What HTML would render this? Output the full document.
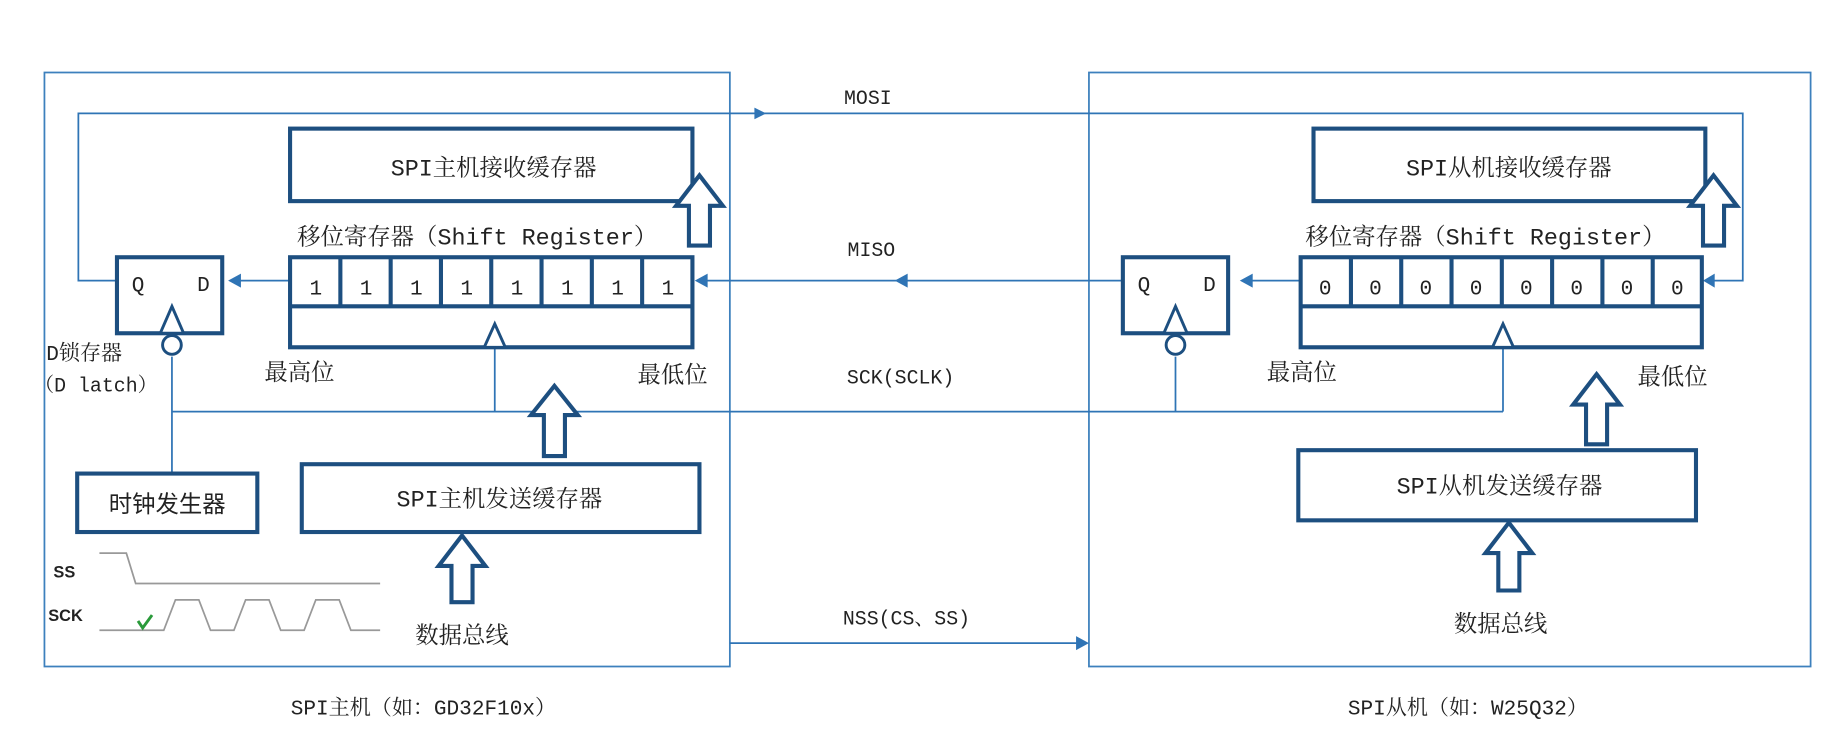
<!DOCTYPE html>
<html><head><meta charset="utf-8"><style>
html,body{margin:0;padding:0;background:#fff;}
svg{display:block;}
text{font-family:"Liberation Mono","Noto Serif CJK SC",monospace;fill:#222;}
.b{fill:none;stroke:#1d4f80;stroke-width:3.5;}
.t{fill:none;stroke:#2f74b5;stroke-width:1.5;}
.o{fill:none;stroke:#3d80bd;stroke-width:1.5;}
.h{fill:#fff;stroke:#1d4f80;stroke-width:3.5;stroke-linejoin:miter;}
.ah{fill:#2f74b5;}
</style></head><body>
<svg width="1834" height="739" viewBox="0 0 1568 632" preserveAspectRatio="none" xmlns="http://www.w3.org/2000/svg">
<rect x="38" y="62" width="586" height="508" class="o"/>
<rect x="931" y="62" width="617" height="508" class="o"/>

<polyline points="100,240 67,240 67,97 1490,97 1490,240 1462,240" class="t"/>
<polygon points="1456,240 1466,234 1466,246" class="ah"/>
<polygon points="655,97 645,92 645,102" class="ah"/>
<text x="742" y="89" font-size="17" text-anchor="middle">MOSI</text>

<line x1="960" y1="240" x2="600" y2="240" class="t"/>
<polygon points="594,240 605,234 605,246" class="ah"/>
<polygon points="765,240 776,234 776,246" class="ah"/>
<text x="745" y="219" font-size="17" text-anchor="middle">MISO</text>

<line x1="248" y1="240" x2="202" y2="240" class="t"/>
<polygon points="195,240 206,234 206,246" class="ah"/>
<line x1="1112" y1="240" x2="1067" y2="240" class="t"/>
<polygon points="1060,240 1071,234 1071,246" class="ah"/>

<polyline points="147,405 147,305" class="t"/>
<line x1="147" y1="352" x2="1285" y2="352" class="t"/>
<line x1="423" y1="297" x2="423" y2="352" class="t"/>
<line x1="1005" y1="305" x2="1005" y2="352" class="t"/>
<line x1="1285" y1="297" x2="1285" y2="352" class="t"/>
<text x="770" y="328" font-size="17" text-anchor="middle">SCK(SCLK)</text>

<line x1="624" y1="550" x2="922" y2="550" class="t"/>
<polygon points="931,550 920,544 920,556" class="ah"/>
<text x="775" y="534" font-size="17" text-anchor="middle">NSS(CS、SS)</text>

<rect x="248" y="110" width="344" height="62" class="b"/>
<text x="422" y="150" font-size="20" text-anchor="middle">SPI主机接收缓存器</text>
<path d="M598,150 L618,176 L607,176 L607,210 L589,210 L589,176 L578,176 Z" class="h"/>
<text x="408" y="209" font-size="20" text-anchor="middle">移位寄存器（Shift Register）</text>
<rect x="248" y="220" width="344" height="77" class="b"/>
<line x1="248" y1="262" x2="592" y2="262" class="b"/>
<g class="b">
<line x1="291" y1="220" x2="291" y2="262"/><line x1="334" y1="220" x2="334" y2="262"/>
<line x1="377" y1="220" x2="377" y2="262"/><line x1="420" y1="220" x2="420" y2="262"/>
<line x1="463" y1="220" x2="463" y2="262"/><line x1="506" y1="220" x2="506" y2="262"/>
<line x1="549" y1="220" x2="549" y2="262"/></g>
<g font-size="18" text-anchor="middle">
<text x="270" y="252">1</text><text x="313" y="252">1</text><text x="356" y="252">1</text><text x="399" y="252">1</text>
<text x="442" y="252">1</text><text x="485" y="252">1</text><text x="528" y="252">1</text><text x="571" y="252">1</text></g>
<path d="M423,277 L432,297 L414,297 Z" class="h" style="stroke-width:2.5"/>
<rect x="100" y="220" width="90" height="65" class="b"/>
<text x="118" y="249" font-size="18" text-anchor="middle">Q</text>
<text x="174" y="249" font-size="18" text-anchor="middle">D</text>
<path d="M147,262 L157,285 L137,285 Z" class="h" style="stroke-width:2.5"/>
<circle cx="147" cy="295" r="8" class="h" style="stroke-width:2.5"/>
<text x="72" y="308" font-size="18" text-anchor="middle">D锁存器</text>
<text x="82" y="335" font-size="17" text-anchor="middle">（D latch）</text>
<text x="256" y="325" font-size="20" text-anchor="middle">最高位</text>
<text x="575" y="327" font-size="20" text-anchor="middle">最低位</text>
<path d="M474,330 L494,355 L483,355 L483,390 L465,390 L465,355 L454,355 Z" class="h"/>
<rect x="258" y="397" width="340" height="58" class="b"/>
<text x="427" y="433" font-size="20" text-anchor="middle">SPI主机发送缓存器</text>
<path d="M395,458 L415,484 L404,484 L404,515 L386,515 L386,484 L375,484 Z" class="h"/>
<text x="395" y="550" font-size="20" text-anchor="middle">数据总线</text>
<rect x="66" y="405" width="154" height="50" class="b"/>
<text x="143" y="438" font-size="20" text-anchor="middle" style="font-family:'Noto Sans CJK SC',sans-serif">时钟发生器</text>
<text x="55" y="494" font-size="14" font-weight="bold" style="font-family:'Liberation Sans',sans-serif" text-anchor="middle">SS</text>
<text x="56" y="531" font-size="14" font-weight="bold" style="font-family:'Liberation Sans',sans-serif" text-anchor="middle">SCK</text>
<polyline points="85,473 108,473 116,499 325,499" fill="none" stroke="#999" stroke-width="1.5"/>
<polyline points="85,539 140,539 150,513 170,513 180,539 200,539 210,513 230,513 240,539 260,539 270,513 290,513 300,539 325,539" fill="none" stroke="#999" stroke-width="1.5"/>
<path d="M118,531 L122,537 L130,526" fill="none" stroke="#2a9a3a" stroke-width="2.5"/>

<rect x="1123" y="110" width="335" height="62" class="b"/>
<text x="1290" y="150" font-size="20" text-anchor="middle">SPI从机接收缓存器</text>
<path d="M1465,150 L1485,176 L1474,176 L1474,210 L1456,210 L1456,176 L1445,176 Z" class="h"/>
<text x="1270" y="209" font-size="20" text-anchor="middle">移位寄存器（Shift Register）</text>
<rect x="1112" y="220" width="343" height="77" class="b"/>
<line x1="1112" y1="262" x2="1455" y2="262" class="b"/>
<g class="b">
<line x1="1155" y1="220" x2="1155" y2="262"/><line x1="1198" y1="220" x2="1198" y2="262"/>
<line x1="1241" y1="220" x2="1241" y2="262"/><line x1="1284" y1="220" x2="1284" y2="262"/>
<line x1="1327" y1="220" x2="1327" y2="262"/><line x1="1370" y1="220" x2="1370" y2="262"/>
<line x1="1413" y1="220" x2="1413" y2="262"/></g>
<g font-size="18" text-anchor="middle">
<text x="1133" y="252">0</text><text x="1176" y="252">0</text><text x="1219" y="252">0</text><text x="1262" y="252">0</text>
<text x="1305" y="252">0</text><text x="1348" y="252">0</text><text x="1391" y="252">0</text><text x="1434" y="252">0</text></g>
<path d="M1285,277 L1294,297 L1276,297 Z" class="h" style="stroke-width:2.5"/>
<rect x="960" y="220" width="90" height="65" class="b"/>
<text x="978" y="249" font-size="18" text-anchor="middle">Q</text>
<text x="1034" y="249" font-size="18" text-anchor="middle">D</text>
<path d="M1005,262 L1015,285 L995,285 Z" class="h" style="stroke-width:2.5"/>
<circle cx="1005" cy="295" r="8" class="h" style="stroke-width:2.5"/>
<text x="1113" y="325" font-size="20" text-anchor="middle">最高位</text>
<text x="1430" y="329" font-size="20" text-anchor="middle">最低位</text>
<path d="M1365,320 L1385,346 L1374,346 L1374,380 L1356,380 L1356,346 L1345,346 Z" class="h"/>
<rect x="1110" y="385" width="340" height="60" class="b"/>
<text x="1282" y="422" font-size="20" text-anchor="middle">SPI从机发送缓存器</text>
<path d="M1290,447 L1310,473 L1299,473 L1299,505 L1281,505 L1281,473 L1270,473 Z" class="h"/>
<text x="1283" y="540" font-size="20" text-anchor="middle">数据总线</text>

<text x="362" y="611" font-size="18" text-anchor="middle">SPI主机（如：GD32F10x）</text>
<text x="1255" y="611" font-size="18" text-anchor="middle">SPI从机（如：W25Q32）</text>
</svg>
</body></html>
